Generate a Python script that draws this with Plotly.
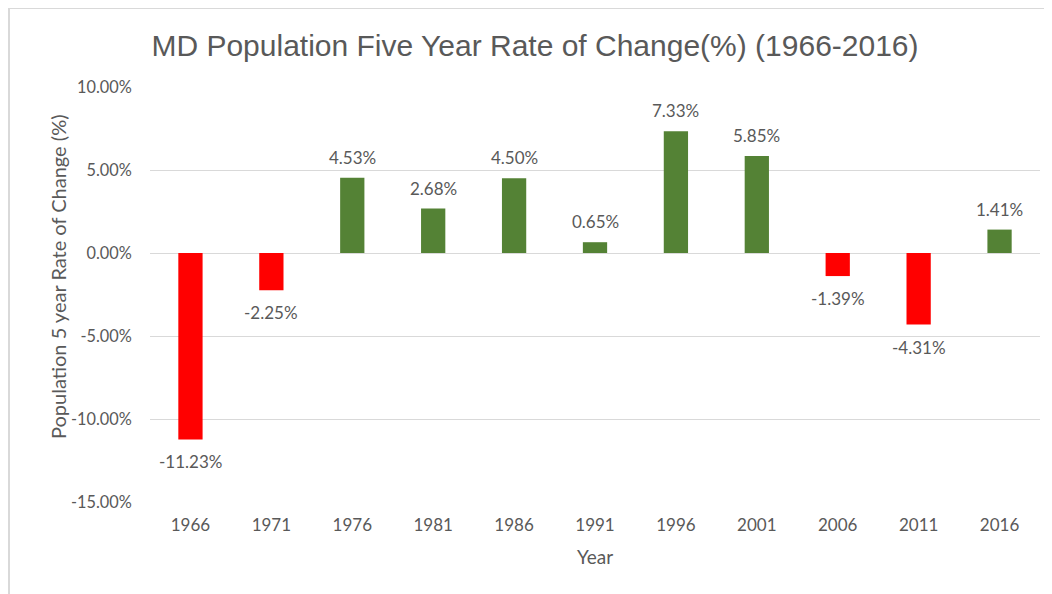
import plotly.graph_objects as go

years = ["1966", "1971", "1976", "1981", "1986", "1991", "1996", "2001", "2006", "2011", "2016"]
rates = [-11.23, -2.25, 4.53, 2.68, 4.50, 0.65, 7.33, 5.85, -1.39, -4.31, 1.41]
y_ticks = [-15, -10, -5, 0, 5, 10]
y_tick_text = [f"{v:.2f}%" for v in y_ticks]

RED = "#FF0000"
GREEN = "#548235"
GRAY = "#595959"
FONT = "Lato, Open Sans, sans-serif"

colors = [RED if v < 0 else GREEN for v in rates]

fig = go.Figure()
fig.add_trace(go.Bar(x=years, y=rates, marker=dict(color=colors, line=dict(width=0)),
                     hoverinfo="x+y"))

for i, v in enumerate(rates):
    fig.add_annotation(x=i, y=v, text=f"{v:.2f}%", showarrow=False,
                       yanchor="bottom" if v >= 0 else "top",
                       yshift=8 if v >= 0 else -10,
                       font=dict(family=FONT, size=17, color=GRAY))

# y-axis title as a rotated annotation (placed slightly above plot centre, as in the original)
fig.add_annotation(xref="paper", yref="paper", x=-92 / 890, y=225 / 415,
                   text="Population 5 year Rate of Change (%)", textangle=-90,
                   showarrow=False, xanchor="center", yanchor="middle",
                   font=dict(family=FONT, size=20, color=GRAY))

# plot area: 142..1032 px horizontally (890 px), 79..494 px vertically (415 px)
fig.add_shape(type="line", xref="paper", yref="paper", x0=-142 / 890, x1=1.03, y0=494 / 415, y1=494 / 415,
              line=dict(color="#d9d9d9", width=2))
fig.add_shape(type="line", xref="paper", yref="paper", x0=-141 / 890, x1=-141 / 890, y0=494 / 415, y1=-0.25,
              line=dict(color="#d9d9d9", width=2))

fig.update_layout(
    width=1052, height=594,
    margin=dict(l=142, r=20, t=79, b=100),
    paper_bgcolor="white", plot_bgcolor="white",
    bargap=0.7,
    showlegend=False,
    title=dict(text="MD Population Five Year Rate of Change(%) (1966-2016)",
               x=527 / 1052, xanchor="center", xref="container",
               y=1 - 37 / 594, yanchor="middle", yref="container",
               font=dict(family="Liberation Sans, Arial, sans-serif", size=30, color=GRAY)),
    xaxis=dict(type="category", showgrid=False, showline=False, zeroline=False,
               ticks="outside", ticklen=8, tickcolor="rgba(0,0,0,0)",
               tickfont=dict(family=FONT, size=17, color=GRAY),
               title=dict(text="Year", standoff=16,
                          font=dict(family=FONT, size=19, color=GRAY))),
    yaxis=dict(range=[-15, 10], tickvals=y_ticks, ticktext=y_tick_text,
               showgrid=True, gridcolor="#d9d9d9", gridwidth=1,
               zeroline=True, zerolinecolor="#d9d9d9", zerolinewidth=1, showline=False,
               ticks="outside", ticklen=14, tickcolor="rgba(0,0,0,0)",
               tickfont=dict(family=FONT, size=16.3, color=GRAY)),
)

fig.write_html("out.html")
